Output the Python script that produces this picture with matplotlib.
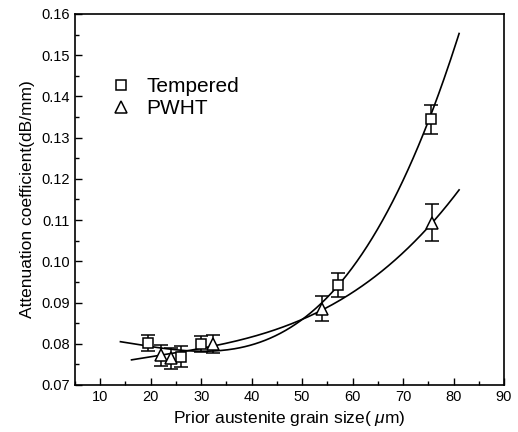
import numpy as np
import matplotlib
matplotlib.use("Agg")
import matplotlib.pyplot as plt
from matplotlib.ticker import MultipleLocator

plt.rcParams['font.family'] = ['Liberation Sans', 'DejaVu Sans']
plt.rcParams['mathtext.fontset'] = 'custom'
plt.rcParams['mathtext.it'] = 'Liberation Sans:italic'

# Data
temp_x = [19.5, 26.0, 30.0, 57.2, 75.5]
temp_y = [0.0802, 0.0769, 0.0800, 0.0942, 0.1345]
temp_err = [0.0020, 0.0025, 0.0020, 0.0029, 0.0035]

pwht_x = [22.0, 24.0, 32.3, 54.0, 75.8]
pwht_y = [0.0772, 0.0765, 0.0799, 0.0885, 0.1094]
pwht_err = [0.0026, 0.0025, 0.0022, 0.0030, 0.0045]

# Fitted trend curves
temp_curve_x = [14, 20, 27, 35, 40, 50, 57, 66.2, 75.5, 78.3, 81.1]
temp_curve_y = [0.0804, 0.0795, 0.0783, 0.0785, 0.0797, 0.0860, 0.0940, 0.1100, 0.1350, 0.1472, 0.1539]
pwht_curve_x = [16.2, 27, 40, 50, 54, 59.3, 69.1, 76, 81.1]
pwht_curve_y = [0.0761, 0.0783, 0.0814, 0.0860, 0.0885, 0.0918, 0.1011, 0.1094, 0.1175]

fig = plt.figure(figsize=(5.18, 4.32), dpi=100)
ax = fig.add_axes([0.1448, 0.1088, 0.8282, 0.8588])

for cx, cy in [(temp_curve_x, temp_curve_y), (pwht_curve_x, pwht_curve_y)]:
    p = np.polyfit(cx, cy, 3)
    xs = np.linspace(min(cx), max(cx), 200)
    ax.plot(xs, np.polyval(p, xs), color='black', lw=1.2)

ax.errorbar(temp_x, temp_y, yerr=temp_err, fmt='s', mfc='white', mec='black',
            ms=7, mew=1.1, ecolor='black', elinewidth=1.1, capsize=5, capthick=1.1,
            label='Tempered', zorder=3)
ax.errorbar(pwht_x, pwht_y, yerr=pwht_err, fmt='^', mfc='white', mec='black',
            ms=8, mew=1.1, ecolor='black', elinewidth=1.1, capsize=5, capthick=1.1,
            label='PWHT', zorder=3)

ax.set_xlim(5, 90)
ax.set_ylim(0.07, 0.16)
ax.xaxis.set_major_locator(MultipleLocator(10))
ax.xaxis.set_minor_locator(MultipleLocator(5))
ax.yaxis.set_major_locator(MultipleLocator(0.01))
ax.yaxis.set_minor_locator(MultipleLocator(0.005))
ax.set_xticks([10, 20, 30, 40, 50, 60, 70, 80, 90])
ax.tick_params(which='both', direction='in', top=False, right=False, labelsize=10.5)
ax.tick_params(which='major', length=5, width=1)
ax.tick_params(which='minor', length=3, width=1)
ax.yaxis.set_major_formatter(matplotlib.ticker.FormatStrFormatter('%.2f'))
for s in ax.spines.values():
    s.set_linewidth(1.2)

ax.set_xlabel(r'Prior austenite grain size( $\mathit{\mu}$m)', fontsize=12.5, labelpad=4)
ax.set_ylabel('Attenuation coefficient(dB/mm)', fontsize=12.5, labelpad=5)

h, l = ax.get_legend_handles_labels()
h = [hh[0] for hh in h]
ax.legend(h, l, loc='upper left', bbox_to_anchor=(0.035, 0.88), frameon=False,
          fontsize=15, handletextpad=0.6, labelspacing=0.15, handlelength=1.2)

fig.savefig('out.png', dpi=100)
